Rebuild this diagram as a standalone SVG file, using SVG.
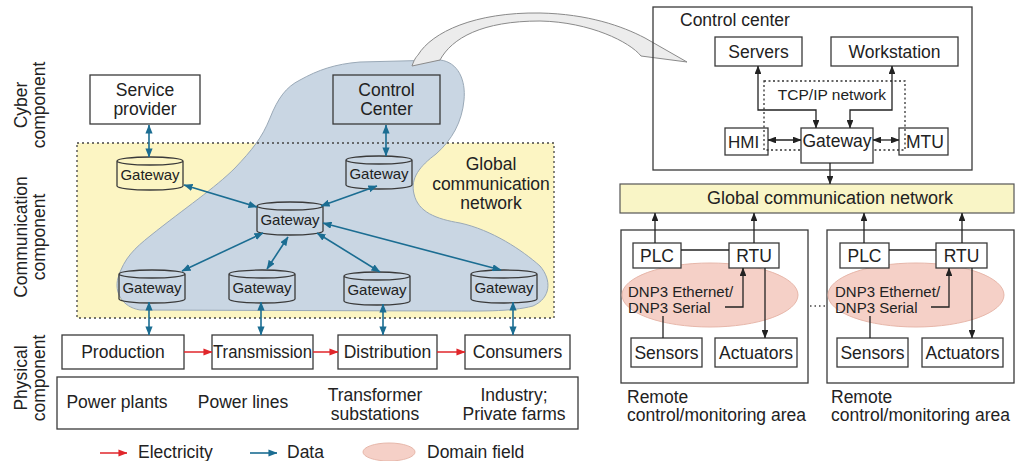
<svg xmlns="http://www.w3.org/2000/svg" width="1020" height="461" viewBox="0 0 1020 461">
  <style>
    text { font-family: "Liberation Sans", Arial, sans-serif; fill: #222; }
    .box { fill: #fff; stroke: #3a3a3a; stroke-width: 1.3; }
    .frame { fill: none; stroke: #3a3a3a; stroke-width: 1.3; }
    .cyl { fill: none; stroke: #3a3a3a; stroke-width: 1.3; }
    .lbl { font-size: 17.5px; text-anchor: middle; }
    .gw { font-size: 15px; text-anchor: middle; }
    .side { font-size: 17.5px; text-anchor: middle; }
    .data { fill: none; stroke: #1b6d92; stroke-width: 1.6; marker-start: url(#ab); marker-end: url(#ab); }
    .elec { fill: none; stroke: #e0262b; stroke-width: 1.5; marker-end: url(#ar); }
    .ln { fill: none; stroke: #222; stroke-width: 1.3; }
    .arr1 { marker-end: url(#ak); }
    .arr2 { marker-start: url(#ak); marker-end: url(#ak); }
    .dot { fill: none; stroke: #333; stroke-width: 1.3; stroke-dasharray: 2 2.5; }
    .domain { fill: #f5d0c7; stroke: #e7b7aa; stroke-width: 1; }
  </style>
  <defs>
    <marker id="ab" viewBox="0 0 10 8" refX="9.5" refY="4" markerWidth="9" markerHeight="7.2" markerUnits="userSpaceOnUse" orient="auto-start-reverse">
      <path d="M0,0 L10,4 L0,8 z" fill="#1b6d92"/>
    </marker>
    <marker id="ar" viewBox="0 0 10 8" refX="9.5" refY="4" markerWidth="9" markerHeight="7.2" markerUnits="userSpaceOnUse" orient="auto-start-reverse">
      <path d="M0,0 L10,4 L0,8 z" fill="#e0262b"/>
    </marker>
    <marker id="ak" viewBox="0 0 10 8" refX="9.5" refY="4" markerWidth="8.5" markerHeight="6.8" markerUnits="userSpaceOnUse" orient="auto-start-reverse">
      <path d="M0,0 L10,4 L0,8 z" fill="#222"/>
    </marker>
  </defs>

  <rect width="1020" height="461" fill="#fff"/>

  <!-- side labels -->
  <g id="side-labels">
    <text class="side" transform="translate(27,105) rotate(-90)">Cyber<tspan x="0" dy="18">component</tspan></text>
    <text class="side" transform="translate(27,237) rotate(-90)">Communication<tspan x="0" dy="18">component</tspan></text>
    <text class="side" transform="translate(27,378) rotate(-90)">Physical<tspan x="0" dy="18">component</tspan></text>
  </g>

  <!-- communication layer background -->
  <g id="communication-area">
    <rect x="77" y="143" width="477" height="175" fill="#fcf5c3"/>
    <path id="global-network-blob" d="M300,80 C318,70 335,64 360,62 L440,60 C458,62 466,80 464,100 C462,122 452,140 436,154 C420,166 410,178 414,194 C418,212 436,219 460,223 C492,230 522,250 540,266 C552,280 551,298 533,306 C510,312 480,311 440,311 L140,310 C122,307 114,292 118,278 C124,258 135,248 150,236 C185,208 215,188 235,168 C252,150 262,138 270,118 C278,98 286,87 300,80 Z" fill="#c9d6e3" stroke="#9aa9b7" stroke-width="1"/>
    <rect x="77" y="143" width="477" height="175" fill="none" stroke="#444" stroke-width="1.3" stroke-dasharray="2 3"/>
    <text class="lbl" x="491" y="170">Global<tspan x="491" dy="19.5">communication</tspan><tspan x="491" dy="19">network</tspan></text>
  </g>

  <!-- callout linking the control center to its detail -->
  <path id="zoom-callout" d="M412,66 C414,60 416,57 418,55 C432,32 475,12 540,13 C588,14 622,26 645,38 L687,62 L641,56 C630,42 590,22 540,21 C482,21 452,38 440,60 Z" fill="#ececec" stroke="#8a8a8a" stroke-width="1"/>

  <!-- cyber component -->
  <g id="service-provider">
    <rect class="box" x="90" y="75" width="110" height="49"/>
    <text class="lbl" x="145" y="96">Service<tspan x="145" dy="19">provider</tspan></text>
  </g>
  <g id="control-center">
    <rect class="frame" x="333" y="75" width="107" height="49"/>
    <text class="lbl" x="386.5" y="96">Control<tspan x="386.5" dy="19">Center</tspan></text>
  </g>

  <!-- gateways -->
  <g id="gateway-provider">
    <path class="cyl" d="M117,161 a33,4 0 0 1 66,0 v25 a33,4 0 0 1 -66,0 z M117,161 a33,4 0 0 0 66,0"/>
    <text class="gw" x="150" y="180">Gateway</text>
  </g>
  <g id="gateway-control">
    <path class="cyl" d="M346,160 a33,4 0 0 1 66,0 v25 a33,4 0 0 1 -66,0 z M346,160 a33,4 0 0 0 66,0"/>
    <text class="gw" x="379" y="179">Gateway</text>
  </g>
  <g id="gateway-core">
    <path class="cyl" d="M257,206 a33,4 0 0 1 66,0 v25 a33,4 0 0 1 -66,0 z M257,206 a33,4 0 0 0 66,0"/>
    <text class="gw" x="290" y="225">Gateway</text>
  </g>
  <g id="gateway-production">
    <path class="cyl" d="M119,274 a33,4 0 0 1 66,0 v25 a33,4 0 0 1 -66,0 z M119,274 a33,4 0 0 0 66,0"/>
    <text class="gw" x="152" y="293">Gateway</text>
  </g>
  <g id="gateway-transmission">
    <path class="cyl" d="M229,274 a33,4 0 0 1 66,0 v25 a33,4 0 0 1 -66,0 z M229,274 a33,4 0 0 0 66,0"/>
    <text class="gw" x="262" y="293">Gateway</text>
  </g>
  <g id="gateway-distribution">
    <path class="cyl" d="M344,276 a33,4 0 0 1 66,0 v25 a33,4 0 0 1 -66,0 z M344,276 a33,4 0 0 0 66,0"/>
    <text class="gw" x="377" y="295">Gateway</text>
  </g>
  <g id="gateway-consumers">
    <path class="cyl" d="M471,274 a33,4 0 0 1 66,0 v25 a33,4 0 0 1 -66,0 z M471,274 a33,4 0 0 0 66,0"/>
    <text class="gw" x="504" y="293">Gateway</text>
  </g>

  <!-- physical component -->
  <g id="production">
    <rect class="box" x="62" y="335" width="122" height="34"/>
    <text class="lbl" x="123" y="358">Production</text>
  </g>
  <g id="transmission">
    <rect class="box" x="212" y="335" width="101" height="34"/>
    <text class="lbl" x="262.5" y="358" textLength="99" lengthAdjust="spacingAndGlyphs">Transmission</text>
  </g>
  <g id="distribution">
    <rect class="box" x="338" y="335" width="99" height="34"/>
    <text class="lbl" x="387.5" y="358">Distribution</text>
  </g>
  <g id="consumers">
    <rect class="box" x="465" y="335" width="105" height="34"/>
    <text class="lbl" x="517.5" y="358">Consumers</text>
  </g>
  <g id="physical-assets">
    <rect class="box" x="57" y="377" width="521" height="52"/>
    <text class="lbl" x="117" y="408">Power plants</text>
    <text class="lbl" x="243" y="408">Power lines</text>
    <text class="lbl" x="375" y="401">Transformer<tspan x="375" dy="19">substations</tspan></text>
    <text class="lbl" x="514" y="401">Industry;<tspan x="514" dy="19">Private farms</tspan></text>
  </g>

  <!-- connectors of the grid overview -->
  <g id="grid-connectors">
    <path class="data" d="M149,125 V157"/>
    <path class="data" d="M386,125 V156"/>
    <path class="data" d="M184,185 L257,207"/>
    <path class="data" d="M377,186 L321,206"/>
    <path class="data" d="M263,233 L182,271"/>
    <path class="data" d="M288,237 L267,269"/>
    <path class="data" d="M317,233 L380,272"/>
    <path class="data" d="M323,223 L501,270"/>
    <path class="data" d="M149,302 V335"/>
    <path class="data" d="M261,302 V335"/>
    <path class="data" d="M383,304 V335"/>
    <path class="data" d="M513,302 V335"/>
    <path class="elec" d="M184,352 H212"/>
    <path class="elec" d="M313,352 H338"/>
    <path class="elec" d="M437,352 H465"/>
  </g>

  <!-- legend -->
  <g id="legend">
    <path d="M100,453 H127" fill="none" stroke="#e0262b" stroke-width="1.5" marker-end="url(#ar)"/>
    <text x="138" y="458" font-size="17.5px">Electricity</text>
    <path d="M250,453 H277" fill="none" stroke="#1b6d92" stroke-width="1.6" marker-end="url(#ab)"/>
    <text x="287" y="458" font-size="17.5px">Data</text>
    <ellipse class="domain" cx="389" cy="452" rx="26" ry="9"/>
    <text x="427" y="458" font-size="17.5px">Domain field</text>
  </g>

  <!-- control center detail -->
  <g id="control-center-detail">
    <rect class="frame" x="653" y="7" width="319" height="163"/>
    <text x="680" y="26" font-size="17.5px">Control center</text>
  </g>
  <g id="servers">
    <rect class="box" x="715" y="37" width="87" height="29"/>
    <text class="lbl" x="758.5" y="58">Servers</text>
  </g>
  <g id="workstation">
    <rect class="box" x="831" y="37" width="127" height="29"/>
    <text class="lbl" x="894.5" y="58">Workstation</text>
  </g>
  <g id="hmi">
    <rect class="frame" x="725" y="128" width="43" height="27"/>
    <text x="728" y="148" font-size="17px">HMI</text>
  </g>
  <g id="mtu">
    <rect class="frame" x="899" y="128" width="49" height="27"/>
    <text class="lbl" x="925" y="148">MTU</text>
  </g>
  <g id="tcp-ip-network">
    <rect class="dot" x="764" y="81" width="141" height="69"/>
    <text x="832" y="100" font-size="15.5px" text-anchor="middle">TCP/IP network</text>
  </g>
  <g id="cc-gateway">
    <rect class="box" x="801" y="128" width="72" height="35"/>
    <text class="lbl" x="837" y="147">Gateway</text>
  </g>

  <!-- wide-area network -->
  <g id="global-network-bar">
    <rect x="620" y="184" width="394" height="29" fill="#f9f5c6" stroke="#555" stroke-width="1.2"/>
    <text x="830" y="204" font-size="18px" text-anchor="middle">Global communication network</text>
  </g>

  <!-- remote area 1 -->
  <g id="remote-area-1">
    <rect class="frame" x="621" y="230" width="187" height="153"/>
    <ellipse class="domain" cx="710" cy="295" rx="88" ry="32"/>
    <text x="627" y="403" font-size="17.5px">Remote<tspan x="627" dy="18">control/monitoring area</tspan></text>
  </g>
  <g id="plc-1">
    <rect class="box" x="633" y="243" width="48" height="25"/>
    <text class="lbl" x="657" y="262">PLC</text>
  </g>
  <g id="rtu-1">
    <rect class="box" x="729" y="243" width="50" height="25"/>
    <text class="lbl" x="754" y="262">RTU</text>
  </g>
  <g id="dnp3-1">
    <text x="628" y="297" font-size="15px">DNP3 Ethernet/<tspan x="628" dy="16">DNP3 Serial</tspan></text>
  </g>
  <g id="sensors-1">
    <rect class="box" x="631" y="338" width="71" height="29"/>
    <text class="lbl" x="666.5" y="359">Sensors</text>
  </g>
  <g id="actuators-1">
    <rect class="box" x="715" y="338" width="82" height="29"/>
    <text class="lbl" x="756" y="359">Actuators</text>
  </g>

  <!-- remote area 2 -->
  <g id="remote-area-2">
    <rect class="frame" x="827" y="230" width="187" height="153"/>
    <ellipse class="domain" cx="916" cy="295" rx="88" ry="32"/>
    <text x="831" y="403" font-size="17.5px">Remote<tspan x="831" dy="18">control/monitoring area</tspan></text>
  </g>
  <g id="plc-2">
    <rect class="box" x="840" y="243" width="49" height="25"/>
    <text class="lbl" x="864.5" y="262">PLC</text>
  </g>
  <g id="rtu-2">
    <rect class="box" x="936" y="243" width="51" height="25"/>
    <text class="lbl" x="961.5" y="262">RTU</text>
  </g>
  <g id="dnp3-2">
    <text x="835" y="297" font-size="15px">DNP3 Ethernet/<tspan x="835" dy="16">DNP3 Serial</tspan></text>
  </g>
  <g id="sensors-2">
    <rect class="box" x="837" y="338" width="71" height="29"/>
    <text class="lbl" x="872.5" y="359">Sensors</text>
  </g>
  <g id="actuators-2">
    <rect class="box" x="922" y="338" width="81" height="29"/>
    <text class="lbl" x="962.5" y="359">Actuators</text>
  </g>

  <!-- connectors of the control system -->
  <g id="scada-connectors">
    <path class="ln arr2" d="M816,128 V110 H758 V66"/>
    <path class="ln arr2" d="M850,128 V110 H892 V66"/>
    <path class="ln arr2" d="M768,140 H801"/>
    <path class="ln arr2" d="M873,140 H899"/>
    <path class="ln arr1" d="M830,163 V184"/>

    <path class="ln" d="M681,250 H729"/>
    <path class="ln arr1" d="M655,243 V213"/>
    <path class="ln arr1" d="M754,243 V213"/>
    <path class="ln arr1" d="M725,307 H743 V268"/>
    <path class="ln arr1" d="M765,268 V338"/>
    <path class="ln" d="M663,316 V338"/>

    <path class="ln" d="M889,250 H936"/>
    <path class="ln arr1" d="M864,243 V213"/>
    <path class="ln arr1" d="M962,243 V213"/>
    <path class="ln arr1" d="M931,307 H949 V268"/>
    <path class="ln arr1" d="M972,268 V338"/>
    <path class="ln" d="M870,316 V338"/>

    <path d="M810,306 H826" fill="none" stroke="#444" stroke-width="1.3" stroke-dasharray="1.5 3"/>
  </g>
</svg>
